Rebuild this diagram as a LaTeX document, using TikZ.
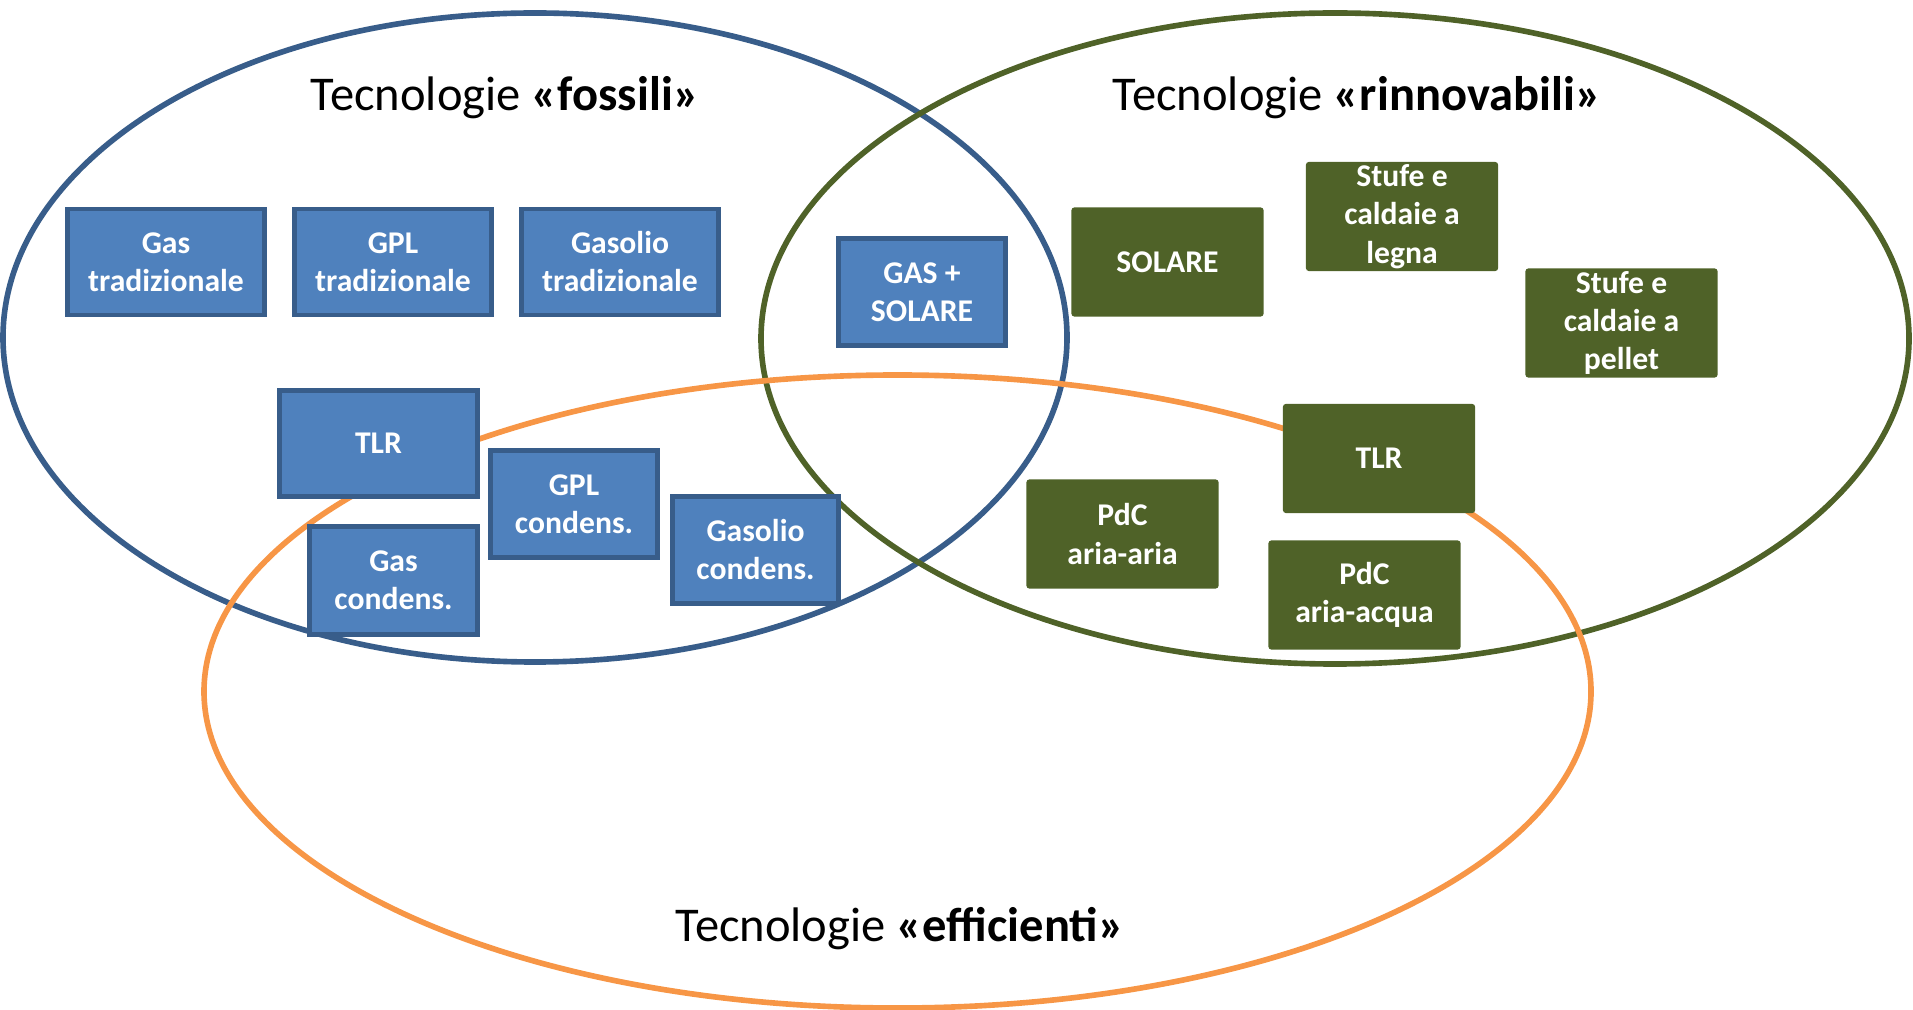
\documentclass[tikz,border=0pt]{standalone}
\usepackage{fontspec}
\setmainfont{Carlito}
\usepackage{tikz}
\definecolor{fosfill}{HTML}{4F81BD}
\definecolor{fosline}{HTML}{385D8A}
\definecolor{rinfill}{HTML}{4F6228}
\definecolor{effline}{HTML}{F79646}

\begin{document}
\begin{tikzpicture}[x=0.01cm,y=-0.01cm,
    ring/.style={line width=1.6pt},
    title/.style={anchor=base,font=\fontsize{13.8}{16}\selectfont},
    fosbox/.style={draw=fosline,line width=1.4pt,fill=fosfill,text=white,align=center,inner sep=0pt,
        font=\bfseries\fontsize{9}{10.8}\selectfont},
    rinbox/.style={fill=rinfill,rounded corners=0.8pt,text=white,align=center,inner sep=0pt,
        minimum width=1.92cm,minimum height=1.09cm,font=\bfseries\fontsize{9}{10.9}\selectfont}]
        \useasboundingbox (0,0) rectangle (1913,1010);
        \draw[ring,fosline] (535,337.5) ellipse (532 and 324.5);
        \draw[ring,rinfill] (1335,338.5) ellipse (574 and 325.5);
        \draw[ring,effline] (897.5,691.5) ellipse (693.5 and 316.5);

        \node[title] (fossili) at (505,111) {Tecnologie \textbf{«fossili»}};
        \node[title] (rinnovabili) at (1357,111) {Tecnologie \textbf{«rinnovabili»}};
        \node[title] (efficienti) at (900,941) {Tecnologie \textbf{«efficienti»}};

        \node[fosbox,minimum width=1.97cm,minimum height=1.06cm] (gastrad) at (166,262) {Gas\\tradizionale};
        \node[fosbox,minimum width=1.97cm,minimum height=1.06cm] (gpltrad) at (393,262) {GPL\\tradizionale};
        \node[fosbox,minimum width=1.97cm,minimum height=1.06cm] (gasoliotrad) at (620,262) {Gasolio\\tradizionale};
        \node[fosbox,minimum width=1.67cm,minimum height=1.07cm] (gassolare) at (922,292) {GAS +\\SOLARE};
        \node[fosbox,minimum width=1.98cm,minimum height=1.06cm] (tlrfos) at (378.5,443.5) {TLR};
        \node[fosbox,minimum width=1.67cm,minimum height=1.07cm] (gplcond) at (574,504) {GPL\\condens.};
        \node[fosbox,minimum width=1.66cm,minimum height=1.07cm] (gasoliocond) at (755.5,550) {Gasolio\\condens.};
        \node[fosbox,minimum width=1.68cm,minimum height=1.08cm] (gascond) at (393.5,580.5) {Gas\\condens.};

        \node[rinbox] (solare) at (1167.5,262) {SOLARE};
        \node[rinbox] (legna) at (1402,216.5) {Stufe e\\caldaie a\\legna};
        \node[rinbox] (pellet) at (1621.5,323) {Stufe e\\caldaie a\\pellet};
        \node[rinbox] (tlrrin) at (1379,458.5) {TLR};
        \node[rinbox] (pdcaria) at (1122.5,534) {PdC\\aria-aria};
        \node[rinbox] (pdcacqua) at (1364.5,595) {PdC\\aria-acqua};
    \end{tikzpicture}
\end{document}
